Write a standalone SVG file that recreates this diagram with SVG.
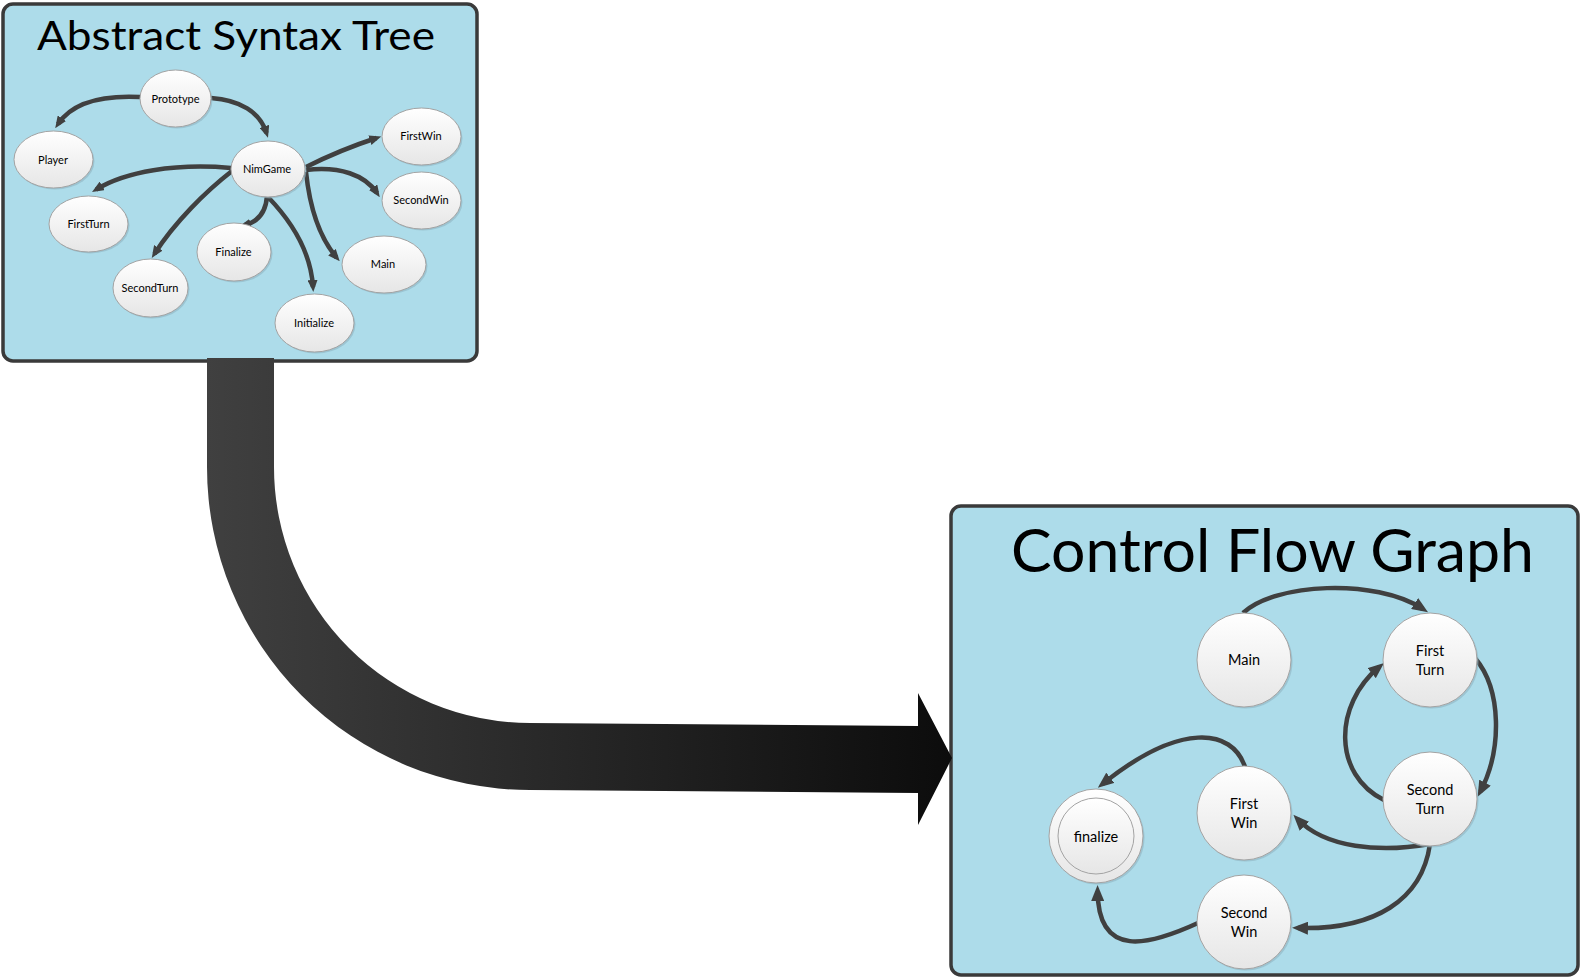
<svg xmlns="http://www.w3.org/2000/svg" width="1583" height="980" viewBox="0 0 1583 980">
<defs>
<linearGradient id="ng" x1="0" y1="0" x2="0" y2="1">
<stop offset="0" stop-color="#ffffff"/>
<stop offset="1" stop-color="#e6e6e6"/>
</linearGradient>
<linearGradient id="bg" x1="0" y1="0" x2="1" y2="0">
<stop offset="0" stop-color="#404040"/>
<stop offset="1" stop-color="#0c0c0c"/>
</linearGradient>
<marker id="ah" viewBox="0 0 12 10" refX="7" refY="5" markerWidth="12" markerHeight="10" markerUnits="userSpaceOnUse" orient="auto">
<path d="M0,0 L12,5 L0,10 z" fill="#404040"/>
</marker>
<marker id="ah2" viewBox="0 0 16 13" refX="10" refY="6.5" markerWidth="16" markerHeight="13" markerUnits="userSpaceOnUse" orient="auto">
<path d="M0,0 L16,6.5 L0,13 z" fill="#404040"/>
</marker>
</defs>
<style>
.box{fill:#addcea;stroke:#3a3a3a;stroke-width:3.5}
.title{font-family:Lato,"Liberation Sans",sans-serif;fill:#000}
.n{fill:url(#ng);stroke:#a3a3a3;stroke-width:1}
.sh{fill:#8fb4c2;opacity:0.6}
.t1{font-family:Lato,"Liberation Sans",sans-serif;font-size:11px;fill:#000;text-anchor:middle;dominant-baseline:central}
.t2{font-family:Lato,"Liberation Sans",sans-serif;font-size:14.5px;fill:#000;text-anchor:middle;dominant-baseline:central}
.c1{fill:none;stroke:#404040;stroke-width:4.5;marker-end:url(#ah)}
.c2{fill:none;stroke:#404040;stroke-width:4.5;marker-end:url(#ah2)}
</style>
<rect x="0" y="0" width="1583" height="980" fill="#ffffff"/>

<g id="ast-panel">
<rect class="box" x="3" y="4" width="474" height="357" rx="10"/>
<text class="title" x="37" y="50" font-size="41" textLength="398" lengthAdjust="spacingAndGlyphs">Abstract Syntax Tree</text>
</g>

<g id="cfg-panel">
<rect class="box" x="951" y="506" width="627" height="469" rx="10"/>
<text class="title" x="1011" y="572" font-size="60" textLength="523" lengthAdjust="spacingAndGlyphs">Control Flow Graph</text>
</g>

<g id="transform-arrow">
<path d="M207,358 L274,358 L274,467 A256,256 0 0 0 530,723 L918,726 L918,693 L952,758 L918,825 L918,793 L530,790 A323,323 0 0 1 207,467 Z" fill="url(#bg)"/>
</g>

<g id="ast-connectors">
<path class="c1" d="M140,97 C100,95 72,103 58,124"/>
<path class="c1" d="M211,98 C240,100 260,112 266.5,133"/>
<path class="c1" d="M306,167 C330,155 355,145 376.5,138"/>
<path class="c1" d="M306,170 C340,166 365,175 377,193"/>
<path class="c1" d="M306,172 C310,210 320,238 336.5,257.5"/>
<path class="c1" d="M231,168 C175,163 125,172 96.3,189.5"/>
<path class="c1" d="M232,171 C205,192 175,222 154.5,253.7"/>
<path class="c1" d="M267,196 C266,212 258,222 243.7,225.5"/>
<path class="c1" d="M268,197 C295,225 311,255 313,287"/>
</g>

<g id="ast-prototype"><ellipse class="sh" cx="177" cy="100" rx="35.5" ry="28.5"/><ellipse class="n" cx="175.5" cy="98.5" rx="35.5" ry="28.5"/><text class="t1" x="175.5" y="98">Prototype</text></g>
<g id="ast-player"><ellipse class="sh" cx="55" cy="161" rx="39.5" ry="28.5"/><ellipse class="n" cx="53.5" cy="159.5" rx="39.5" ry="28.5"/><text class="t1" x="53" y="159">Player</text></g>
<g id="ast-nimgame"><ellipse class="sh" cx="269.5" cy="170.5" rx="37" ry="28"/><ellipse class="n" cx="268" cy="169" rx="37" ry="28"/><text class="t1" x="267" y="168.5">NimGame</text></g>
<g id="ast-firstwin"><ellipse class="sh" cx="423" cy="138" rx="39.5" ry="28.5"/><ellipse class="n" cx="421.5" cy="136.5" rx="39.5" ry="28.5"/><text class="t1" x="421" y="135.5">FirstWin</text></g>
<g id="ast-secondwin"><ellipse class="sh" cx="423" cy="202" rx="39.5" ry="28.5"/><ellipse class="n" cx="421.5" cy="200.5" rx="39.5" ry="28.5"/><text class="t1" x="421" y="199.5">SecondWin</text></g>
<g id="ast-firstturn"><ellipse class="sh" cx="90" cy="225.5" rx="39.5" ry="28"/><ellipse class="n" cx="88.5" cy="224" rx="39.5" ry="28"/><text class="t1" x="88.5" y="223.5">FirstTurn</text></g>
<g id="ast-finalize"><ellipse class="sh" cx="235.5" cy="253.5" rx="37" ry="29"/><ellipse class="n" cx="234" cy="252" rx="37" ry="29"/><text class="t1" x="233.5" y="251.5">Finalize</text></g>
<g id="ast-main"><ellipse class="sh" cx="385.5" cy="266" rx="42" ry="28.5"/><ellipse class="n" cx="384" cy="264.5" rx="42" ry="28.5"/><text class="t1" x="383" y="263.5">Main</text></g>
<g id="ast-secondturn"><ellipse class="sh" cx="152" cy="289.5" rx="37.5" ry="29"/><ellipse class="n" cx="150.5" cy="288" rx="37.5" ry="29"/><text class="t1" x="150" y="287.5">SecondTurn</text></g>
<g id="ast-initialize"><ellipse class="sh" cx="316" cy="324.5" rx="39.5" ry="29"/><ellipse class="n" cx="314.5" cy="323" rx="39.5" ry="29"/><text class="t1" x="314" y="322.5">Initialize</text></g>

<g id="cfg-connectors">
<path class="c2" d="M1243,613 C1275,583 1375,578 1423,609"/>
<path class="c2" d="M1475,658 C1502,690 1502,750 1480.4,791.5"/>
<path class="c2" d="M1384,800 C1333,775 1333,705 1379.4,666.8"/>
<path class="c2" d="M1430,844 C1380,853 1325,848 1297.5,819"/>
<path class="c2" d="M1430,844 C1422,900 1375,930 1298,928"/>
<path class="c2" d="M1245,767 C1232,728 1180,722 1102.5,784"/>
<path class="c2" d="M1198,923 C1150,945 1098,960 1097.6,891"/>
</g>

<g id="cfg-main"><circle class="sh" cx="1245.5" cy="661.5" r="47"/><circle class="n" cx="1244" cy="660" r="47"/><text class="t2" x="1244" y="659">Main</text></g>
<g id="cfg-firstturn"><circle class="sh" cx="1431.5" cy="661.5" r="47"/><circle class="n" cx="1430" cy="660" r="47"/><text class="t2" x="1430" y="650">First</text><text class="t2" x="1430" y="669">Turn</text></g>
<g id="cfg-secondturn"><circle class="sh" cx="1431.5" cy="800.5" r="47"/><circle class="n" cx="1430" cy="799" r="47"/><text class="t2" x="1430" y="789">Second</text><text class="t2" x="1430" y="808">Turn</text></g>
<g id="cfg-firstwin"><circle class="sh" cx="1245.5" cy="814.5" r="47"/><circle class="n" cx="1244" cy="813" r="47"/><text class="t2" x="1244" y="803">First</text><text class="t2" x="1244" y="822">Win</text></g>
<g id="cfg-secondwin"><circle class="sh" cx="1245.5" cy="923.5" r="47"/><circle class="n" cx="1244" cy="922" r="47"/><text class="t2" x="1244" y="912">Second</text><text class="t2" x="1244" y="931">Win</text></g>
<g id="cfg-finalize"><circle class="sh" cx="1097.5" cy="837.5" r="47"/><circle class="n" cx="1096" cy="836" r="47"/><circle class="n" cx="1096" cy="836" r="38"/><text class="t2" x="1096" y="836">finalize</text></g>
</svg>
